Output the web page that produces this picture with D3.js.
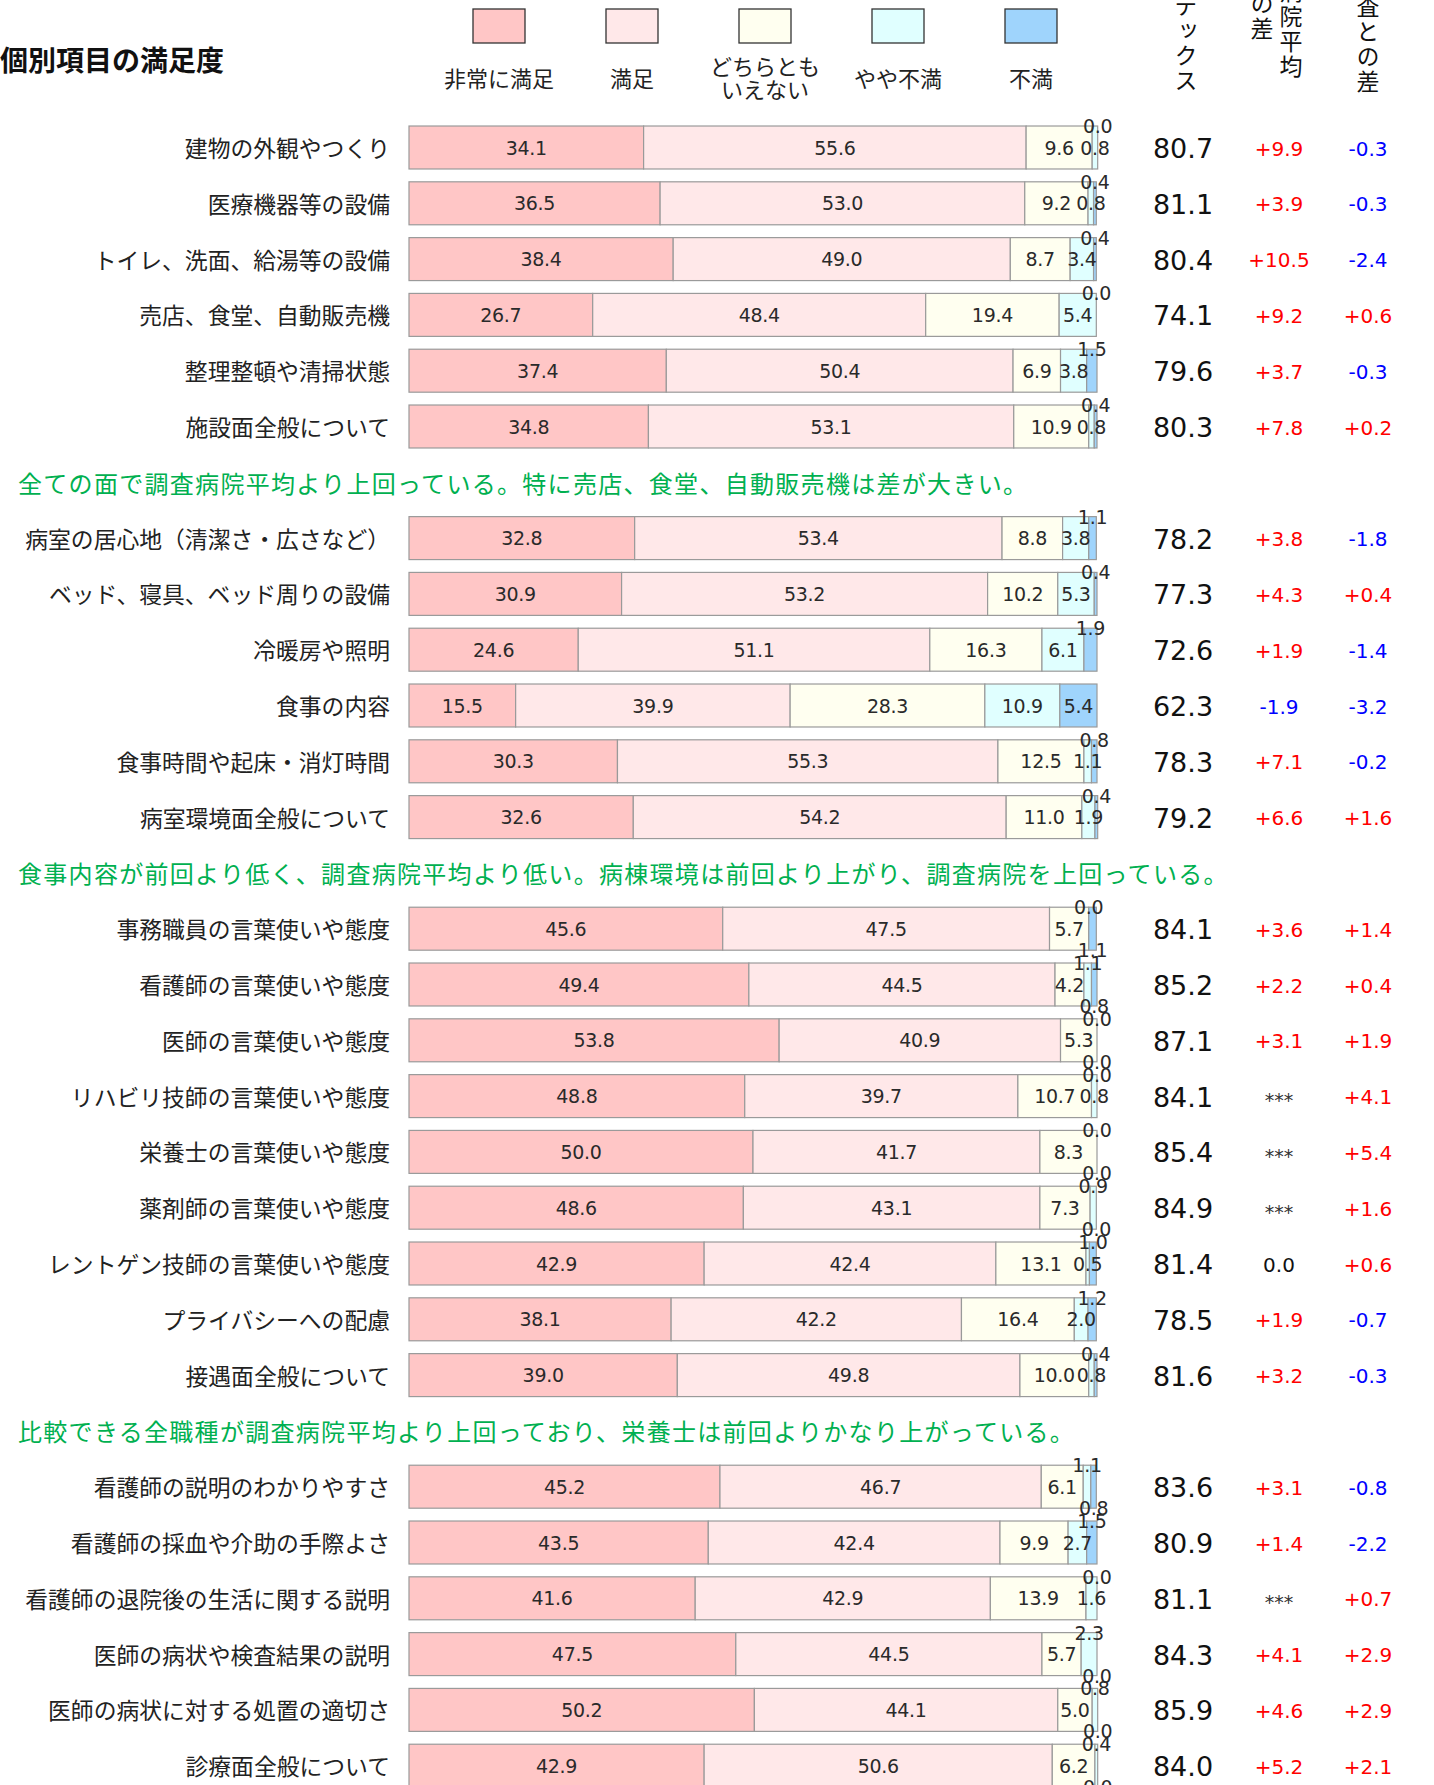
<!DOCTYPE html>
<html>
<head>
<meta charset="utf-8">
<script src="https://cdn.jsdelivr.net/npm/d3@7"></script>
<style>
  body { margin: 0; background: #fff; }
  svg text { font-family: "Noto Sans CJK JP", sans-serif; }
  svg text.num { font-family: "DejaVu Sans", sans-serif; }
</style>
</head>
<body>
<svg id="chart" width="1434" height="1785"></svg>
<script>
// categories (top to bottom)
var categories = [
  "建物の外観やつくり", "医療機器等の設備", "トイレ、洗面、給湯等の設備", "売店、食堂、自動販売機",
  "整理整頓や清掃状態", "施設面全般について",
  "病室の居心地（清潔さ・広さなど）", "ベッド、寝具、ベッド周りの設備", "冷暖房や照明", "食事の内容",
  "食事時間や起床・消灯時間", "病室環境面全般について",
  "事務職員の言葉使いや態度", "看護師の言葉使いや態度", "医師の言葉使いや態度", "リハビリ技師の言葉使いや態度",
  "栄養士の言葉使いや態度", "薬剤師の言葉使いや態度", "レントゲン技師の言葉使いや態度", "プライバシーへの配慮",
  "接遇面全般について",
  "看護師の説明のわかりやすさ", "看護師の採血や介助の手際よさ", "看護師の退院後の生活に関する説明",
  "医師の病状や検査結果の説明", "医師の病状に対する処置の適切さ", "診療面全般について"
];

var seriesNames = ["非常に満足", "満足", "どちらとも\nいえない", "やや不満", "不満"];

var verySatisfied = [34.1, 36.5, 38.4, 26.7, 37.4, 34.8, 32.8, 30.9, 24.6, 15.5, 30.3, 32.6,
  45.6, 49.4, 53.8, 48.8, 50.0, 48.6, 42.9, 38.1, 39.0, 45.2, 43.5, 41.6, 47.5, 50.2, 42.9];
var satisfied = [55.6, 53.0, 49.0, 48.4, 50.4, 53.1, 53.4, 53.2, 51.1, 39.9, 55.3, 54.2,
  47.5, 44.5, 40.9, 39.7, 41.7, 43.1, 42.4, 42.2, 49.8, 46.7, 42.4, 42.9, 44.5, 44.1, 50.6];
var neutral = [9.6, 9.2, 8.7, 19.4, 6.9, 10.9, 8.8, 10.2, 16.3, 28.3, 12.5, 11.0,
  5.7, 4.2, 5.3, 10.7, 8.3, 7.3, 13.1, 16.4, 10.0, 6.1, 9.9, 13.9, 5.7, 5.0, 6.2];
var slightlyDissatisfied = [0.8, 0.8, 3.4, 5.4, 3.8, 0.8, 3.8, 5.3, 6.1, 10.9, 1.1, 1.9,
  0.0, 1.1, 0.0, 0.8, 0.0, 0.9, 0.5, 2.0, 0.8, 1.1, 2.7, 1.6, 2.3, 0.8, 0.4];
var dissatisfied = [0.0, 0.4, 0.4, 0.0, 1.5, 0.4, 1.1, 0.4, 1.9, 5.4, 0.8, 0.4,
  1.1, 0.8, 0.0, 0.0, 0.0, 0.0, 1.0, 1.2, 0.4, 0.8, 1.5, 0.0, 0.0, 0.0, 0.0];

var indexValues = [80.7, 81.1, 80.4, 74.1, 79.6, 80.3, 78.2, 77.3, 72.6, 62.3, 78.3, 79.2,
  84.1, 85.2, 87.1, 84.1, 85.4, 84.9, 81.4, 78.5, 81.6, 83.6, 80.9, 81.1, 84.3, 85.9, 84.0];
// null = *** (no comparison)
var diffAverage = [9.9, 3.9, 10.5, 9.2, 3.7, 7.8, 3.8, 4.3, 1.9, -1.9, 7.1, 6.6,
  3.6, 2.2, 3.1, null, null, null, 0.0, 1.9, 3.2, 3.1, 1.4, null, 4.1, 4.6, 5.2];
var diffPrevious = [-0.3, -0.3, -2.4, 0.6, -0.3, 0.2, -1.8, 0.4, -1.4, -3.2, -0.2, 1.6,
  1.4, 0.4, 1.9, 4.1, 5.4, 1.6, 0.6, -0.7, -0.3, -0.8, -2.2, 0.7, 2.9, 2.9, 2.1];

var headers = [["インデックス"], ["調査病院平均", "との差"], ["前回調査との差"]];

var comments = [
  "全ての面で調査病院平均より上回っている。特に売店、食堂、自動販売機は差が大きい。",
  "食事内容が前回より低く、調査病院平均より低い。病棟環境は前回より上がり、調査病院を上回っている。",
  "比較できる全職種が調査病院平均より上回っており、栄養士は前回よりかなり上がっている。"
];
var commentAfter = [6, 12, 21];

var colors = ["#ffc6c6", "#ffe8e9", "#fffff0", "#e0ffff", "#9fd4fc"];

var svg = d3.select("#chart");

// slots: rows and comment lines share one vertical grid
var slots = [];
categories.forEach(function (c, i) {
  slots.push({ type: "row", i: i });
  var k = commentAfter.indexOf(i + 1);
  if (k >= 0) slots.push({ type: "comment", k: k });
});

var step = 55.8;
var y = d3.scaleBand()
  .domain(d3.range(slots.length))
  .range([119.6, 119.6 + slots.length * step])
  .paddingInner(0.23)
  .paddingOuter(0.115);

var x = d3.scaleLinear().domain([0, 100]).range([409, 1097]);

// title
svg.append("text")
  .attr("x", 0).attr("y", 59)
  .attr("dominant-baseline", "central")
  .style("font-size", "28px").style("font-weight", "bold")
  .attr("fill", "#111")
  .text("個別項目の満足度");

// legend
var legendX = d3.scalePoint().domain(d3.range(5)).range([499, 1031]);
var lg = svg.append("g").selectAll("g").data(seriesNames).enter().append("g");
lg.append("rect")
  .attr("x", function (d, i) { return legendX(i) - 26; })
  .attr("y", 9).attr("width", 52).attr("height", 34)
  .attr("fill", function (d, i) { return colors[i]; })
  .attr("stroke", "#333").attr("stroke-width", 1.3);
lg.each(function (d, i) {
  var lines = d.split("\n");
  var g = d3.select(this);
  lines.forEach(function (l, j) {
    g.append("text")
      .attr("x", legendX(i))
      .attr("y", lines.length > 1 ? 65 + j * 23 : 77)
      .attr("text-anchor", "middle").attr("dominant-baseline", "central")
      .style("font-size", "22px").attr("fill", "#222")
      .text(l);
  });
});

// column headers (vertical, cut off by the top edge)
var colX = [1183, 1279, 1368];
var headerCols = [
  [{ t: headers[0][0], x: 1186, end: 94 }],
  [{ t: headers[1][0], x: 1291, end: 80 }, { t: headers[1][1], x: 1262, end: 42 }],
  [{ t: headers[2][0], x: 1368, end: 95 }]
];
headerCols.forEach(function (cols) {
  cols.forEach(function (c) {
    svg.append("text")
      .attr("x", c.x).attr("y", c.end)
      .attr("text-anchor", "end")
      .style("writing-mode", "vertical-rl")
      .style("font-size", "23px")
      .style("letter-spacing", "2px")
      .attr("fill", "#111")
      .text(c.t);
  });
});

// rows
var rowSlots = slots.filter(function (s) { return s.type === "row"; });
var rows = svg.append("g").selectAll("g.row")
  .data(rowSlots).enter().append("g").attr("class", "row");

rows.each(function (s) {
  var g = d3.select(this);
  var i = s.i;
  var slotIdx = slots.indexOf(s);
  var top = y(slotIdx), bh = y.bandwidth(), cy = top + bh / 2;
  var vals = [verySatisfied[i], satisfied[i], neutral[i], slightlyDissatisfied[i], dissatisfied[i]];
  var segs = [], acc = 0;
  vals.forEach(function (v, k) { segs.push({ k: k, v: v, x0: acc, x1: acc + v }); acc += v; });

  g.append("text")
    .attr("x", 390).attr("y", cy)
    .attr("text-anchor", "end").attr("dominant-baseline", "central")
    .style("font-size", "22.8px").attr("fill", "#222")
    .text(categories[i]);

  g.selectAll("rect").data(segs).enter().append("rect")
    .attr("x", function (d) { return x(d.x0); })
    .attr("y", top)
    .attr("width", function (d) { return Math.max(0, x(d.x1) - x(d.x0)); })
    .attr("height", bh)
    .attr("fill", function (d) { return colors[d.k]; })
    .attr("stroke", "#9a9a9a").attr("stroke-width", 1.2);

  // where the two small segments put their labels
  var crowded = neutral[i] + slightlyDissatisfied[i] < 9.5;
  segs.forEach(function (d) {
    var ly = cy;
    if (d.k === 3 && crowded) ly = top;
    if (d.k === 4) {
      if (crowded) ly = top + bh;
      else if (d.v < 3) ly = top;
    }
    g.append("text").attr("class", "num")
      .attr("x", x((d.x0 + d.x1) / 2)).attr("y", ly)
      .attr("text-anchor", "middle").attr("dominant-baseline", "central")
      .style("font-size", "19px").style("letter-spacing", "-0.3px")
      .attr("fill", "#2a2a2a")
      .text(d3.format(".1f")(d.v));
  });

  g.append("text").attr("class", "num")
    .attr("x", colX[0]).attr("y", cy + 1)
    .attr("text-anchor", "middle").attr("dominant-baseline", "central")
    .style("font-size", "27px").attr("fill", "#111")
    .text(d3.format(".1f")(indexValues[i]));

  [diffAverage[i], diffPrevious[i]].forEach(function (v, j) {
    var t, col;
    if (v === null) { t = "***"; col = "#333"; }
    else if (v > 0) { t = "+" + d3.format(".1f")(v); col = "#ff0000"; }
    else if (v < 0) { t = "-" + d3.format(".1f")(-v); col = "#0000ff"; }
    else { t = "0.0"; col = "#111"; }
    g.append("text").attr("class", "num")
      .attr("x", colX[j + 1]).attr("y", v === null ? cy + 4 : cy + 1)
      .attr("text-anchor", "middle").attr("dominant-baseline", "central")
      .style("font-size", v === null ? "19px" : "20px")
      .attr("fill", col)
      .text(t);
  });
});

// comment lines
svg.append("g").selectAll("text")
  .data(slots.filter(function (s) { return s.type === "comment"; }))
  .enter().append("text")
  .attr("x", 18)
  .attr("y", function (s) { return y(slots.indexOf(s)) + y.bandwidth() / 2; })
  .attr("dominant-baseline", "central")
  .style("font-size", "24px").style("letter-spacing", "1.3px")
  .attr("fill", "#00b050")
  .text(function (s) { return comments[s.k]; });
</script>
</body>
</html>
